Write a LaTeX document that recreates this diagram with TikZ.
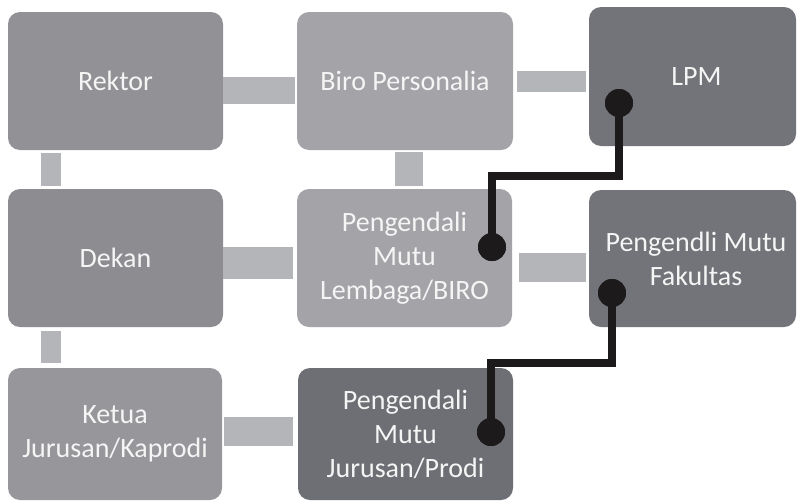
\documentclass[tikz,border=0pt]{standalone}
\usepackage{fontspec}
\setmainfont{Carlito}
\usetikzlibrary{calc}
\definecolor{boxA}{RGB}{146,146,150}
\definecolor{boxB}{RGB}{164,164,168}
\definecolor{boxC}{RGB}{141,141,145}
\definecolor{boxD}{RGB}{151,151,155}
\definecolor{boxDark}{RGB}{115,116,121}
\definecolor{bar}{RGB}{180,181,185}
\definecolor{wire}{RGB}{28,26,27}
\begin{document}
\begin{tikzpicture}[x=1pt,y=-1pt,
  unit/.style={rounded corners=12pt, inner sep=0pt, align=center,
    text=white!96!black, font=\fontsize{28}{34}\selectfont},
  barline/.style={draw=bar, line width=#1},
  wireline/.style={draw=wire, line width=8.5pt},
  dot/.style={circle, fill=wire, minimum size=28pt, inner sep=0pt}]
\useasboundingbox (0,0) rectangle (797,501);
\fill[white] (0,0) rectangle (797,501);

% organisation units
\node[unit, fill=boxA, minimum width=215pt, minimum height=138pt] (rektor) at (115.5,81) {Rektor};
\node[unit, fill=boxB, minimum width=216pt, minimum height=138pt] (biro) at (405,81) {Biro Personalia};
\node[unit, fill=boxDark, minimum width=207pt, minimum height=139pt] (lpm) at (692.5,76.5) {\hspace*{8pt}LPM};
\node[unit, fill=boxC, minimum width=215pt, minimum height=138pt] (dekan) at (115.5,258) {Dekan};
\node[unit, fill=boxB, minimum width=215pt, minimum height=138pt] (lembaga) at (404.5,258) {Pengendali\\Mutu\\Lembaga/BIRO};
\node[unit, fill=boxDark, minimum width=207pt, minimum height=137pt] (fak) at (692.5,258.5) {\hspace*{7pt}Pengendli Mutu\\\hspace*{7pt}Fakultas};
\node[unit, fill=boxD, minimum width=214pt, minimum height=132pt] (ketua) at (115,434) {Ketua\\Jurusan/Kaprodi};
\node[unit, fill=boxDark!96!black, minimum width=215pt, minimum height=132pt] (prodi) at (405.5,434) {Pengendali\\Mutu\\Jurusan/Prodi};

% grey link bars
\draw[barline=27pt] ([yshift=-9.5pt]rektor.east) -- ([yshift=-9.5pt,xshift=-2pt]biro.west);
\draw[barline=21pt] ([yshift=-0.5pt,xshift=4pt]biro.east) -- ([yshift=-5pt,xshift=-3pt]lpm.west);
\draw[barline=20pt] ([xshift=-64.5pt,yshift=-3pt]rektor.south) -- ([xshift=-64.5pt,yshift=3pt]dekan.north);
\draw[barline=28pt] ([xshift=4pt,yshift=-2pt]biro.south) -- ([xshift=4.5pt,yshift=3pt]lembaga.north);
\draw[barline=32pt] ([yshift=-5pt]dekan.east) -- ([yshift=-5pt,xshift=-4pt]lembaga.west);
\draw[barline=29pt] ([yshift=-9.5pt,xshift=7pt]lembaga.east) -- ([yshift=-9pt,xshift=-3pt]fak.west);
\draw[barline=20pt] ([xshift=-64.5pt,yshift=-4pt]dekan.south) -- ([xshift=-64pt,yshift=5pt]ketua.north);
\draw[barline=29pt] ([yshift=3pt,xshift=2pt]ketua.east) -- ([yshift=3pt,xshift=-5pt]prodi.west);

% quality-control wires
\node[dot] (d1) at (619,103) {};
\node[dot] (d2) at (492,247) {};
\node[dot] (d3) at (612,293) {};
\node[dot] (d4) at (491,432) {};
\coordinate (k1) at (555,176);
\coordinate (k2) at (550,363);
\draw[wireline] (d1.center) |- (k1) -| (d2.center);
\draw[wireline] (d3.center) |- (k2) -| (d4.center);
\node[dot] at (d1) {};
\node[dot] at (d2) {};
\node[dot] at (d3) {};
\node[dot] at (d4) {};
\end{tikzpicture}
\end{document}
